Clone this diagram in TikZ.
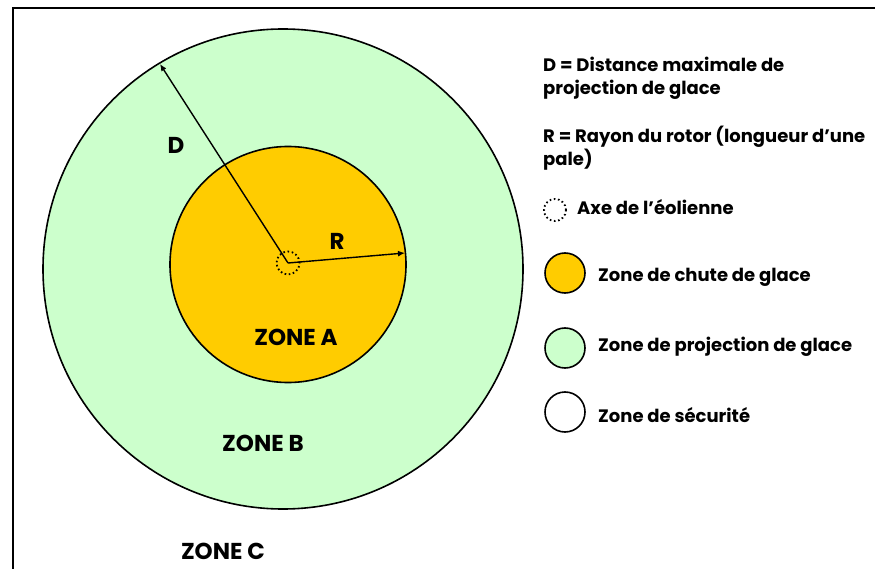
\documentclass[tikz,border=0pt]{standalone}
\usepackage{fontspec}
\setmainfont{Poppins}
\usetikzlibrary{arrows.meta}
\definecolor{chute}{HTML}{FFCC00}
\definecolor{projection}{HTML}{CCFFCC}
\tikzset{
  txt/.style={font=\bfseries\fontsize{18}{23}\selectfont, inner sep=0pt},
  big/.style={font=\bfseries\fontsize{23}{26}\selectfont, inner sep=0pt},
  legtxt/.style={txt, anchor=west},
  zone/.style={draw, line width=1.6pt, circle, minimum size=40pt, inner sep=0pt},
  axe/.style={draw, circle, line width=1.8pt, dash pattern=on 1.6pt off 2.6pt, minimum size=23pt, inner sep=0pt}
}
\begin{document}
\begin{tikzpicture}[x=1pt,y=-1pt]
\useasboundingbox (0,0) rectangle (875,569);
% cadre
\draw[line width=2.5pt] (13,569) -- (13,8) -- (875,8);
% zones
\coordinate (O) at (283,269);
\coordinate (A) at (288,264.5);
\draw[line width=1.6pt, fill=projection] (O) circle[radius=240];
\draw[line width=1.6pt, fill=chute] (A) circle[radius=118];
\node[axe] (E) at (288,263) {};
\coordinate (d) at (160,64);
\coordinate (r) at (405,253);
\draw[line width=1.4pt,-{Latex[length=7pt,width=6pt]}] (E.center) -- (d);
\draw[line width=1.4pt,-{Latex[length=7pt,width=6pt]}] (E.center) -- (r);
\node[big] (D) at (176,145) {D};
\node[big] (R) at (337,241) {R};
\node[big] (zA) at (296,337) {ZONE A};
\node[big] (zB) at (263,443) {ZONE B};
\node[big] (zC) at (223,551) {ZONE C};
% legende
\node[legtxt, align=left] (defD) at (543,78) {D = Distance maximale de\\projection de glace};
\node[legtxt, align=left] (defR) at (543,148) {R = Rayon du rotor (longueur d’une\\pale)};
\node[axe, minimum size=22pt] (l1) at (555,210) {};
\node[legtxt] (t1) at (577,207) {Axe de l’éolienne};
\node[zone, fill=chute] (l2) at (565,273) {};
\node[legtxt] (t2) at (598,277) {Zone de chute de glace};
\node[zone, fill=projection] (l3) at (565,348) {};
\node[legtxt] (t3) at (598,347) {Zone de projection de glace};
\node[zone, fill=white] (l4) at (565,412) {};
\node[legtxt] (t4) at (598,415) {Zone de sécurité};
\end{tikzpicture}
\end{document}
